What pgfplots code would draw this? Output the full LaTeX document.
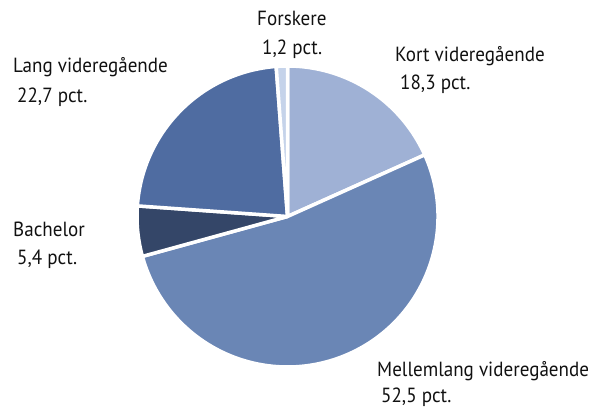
\documentclass[border=0pt]{standalone}
\usepackage{pgfplots}
\pgfplotsset{compat=1.18}
\usepackage{fontspec}
\setmainfont[FakeStretch=0.93]{PT Sans}

\definecolor{kort}{HTML}{9FB1D5}
\definecolor{mellem}{HTML}{6A86B5}
\definecolor{bachelor}{HTML}{344668}
\definecolor{lang}{HTML}{4F6CA1}
\definecolor{forskere}{HTML}{C5D3EA}
\definecolor{txt}{HTML}{111111}

\begin{document}
\begin{tikzpicture}[lbl/.style={anchor=base west, inner sep=0pt, text=txt,
    font=\fontsize{20.5}{24}\selectfont}]
\begin{axis}[hide axis, scale only axis, width=589pt, height=412pt,
  xmin=0, xmax=589, ymin=0, ymax=412, clip=false]
\path (axis cs:0,0) rectangle (axis cs:589,412);
% shares in pct., clockwise from the top
\def\startangle{90}
\foreach \v/\c in {18.3/kort,52.5/mellem,5.4/bachelor,22.7/lang,1.2/forskere}{
  \pgfmathsetmacro\endangle{\startangle-\v/100.1*360}
  \pgfmathsetmacro\xa{287.5+150.5*cos(\startangle)}
  \pgfmathsetmacro\ya{195.5+150.5*sin(\startangle)}
  \edef\temp{\noexpand\fill[\c, draw=white, line width=3.5pt, line join=round]
    (axis cs:287.5,195.5) -- (axis cs:\xa,\ya)
    arc[start angle=\startangle, end angle=\endangle, radius=150.5] -- cycle;}
  \temp
  \global\let\startangle\endangle
}
\node[lbl] at (axis cs:257,386) {Forskere};
\node[lbl] at (axis cs:262,357) {1,2 pct.};
\node[lbl] at (axis cs:395,350) {Kort videregående};
\node[lbl] at (axis cs:400,322) {18,3 pct.};
\node[lbl] at (axis cs:13,339) {Lang videregående};
\node[lbl] at (axis cs:17,309) {22,7 pct.};
\node[lbl] at (axis cs:13,175) {Bachelor};
\node[lbl] at (axis cs:17,147) {5,4 pct.};
\node[lbl] at (axis cs:377,35) {Mellemlang videregående};
\node[lbl] at (axis cs:381,9) {52,5 pct.};
\end{axis}
\end{tikzpicture}
\end{document}
